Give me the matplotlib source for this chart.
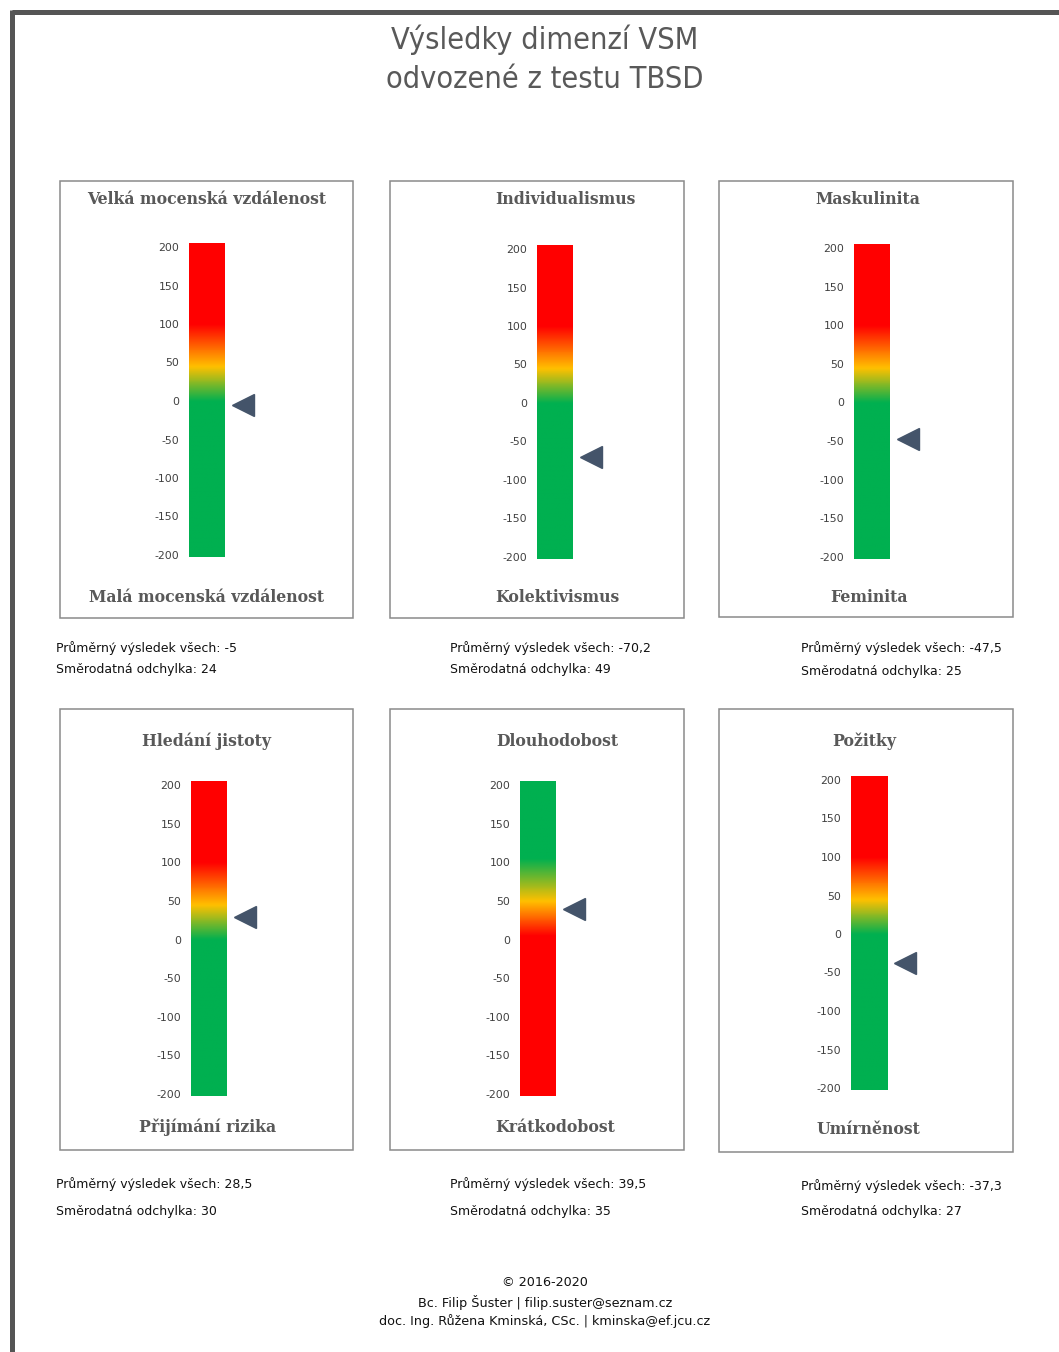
import numpy as np
import matplotlib
matplotlib.use("Agg")
import matplotlib.pyplot as plt
from matplotlib.colors import LinearSegmentedColormap

plt.rcParams["axes.unicode_minus"] = False

# ---- data -------------------------------------------------------------
dim_top = ["Velká mocenská vzdálenost", "Individualismus", "Maskulinita",
           "Hledání jistoty", "Dlouhodobost", "Požitky"]
dim_bottom = ["Malá mocenská vzdálenost", "Kolektivismus", "Feminita",
              "Přijímání rizika", "Krátkodobost", "Umírněnost"]
mean_values = [-5, -70.2, -47.5, 28.5, 39.5, -37.3]
mean_labels = ["-5", "-70,2", "-47,5", "28,5", "39,5", "-37,3"]
std_labels = ["24", "49", "25", "30", "35", "27"]
green_on_top = [False, False, False, False, True, False]
scale_ticks = [-200, -150, -100, -50, 0, 50, 100, 150, 200]

# ---- layout (pixels, origin top-left) ---------------------------------
W, H = 1059, 1352
boxes = [(60, 181, 353, 618), (390, 181, 684, 618), (719, 181, 1013, 617),
         (60, 709, 353, 1150), (390, 709, 684, 1150), (719, 709, 1013, 1152)]
# bar: x-left, x-right, pixel row of +200, pixel row of -200
bars = [(189, 225, 247, 555), (537, 573, 249, 557), (854, 890, 248, 557),
        (191, 227, 785, 1094), (520, 556, 785, 1094), (851, 887, 780, 1088)]
title_x = [207, 565, 868, 207, 557, 864]
bottom_x = [207, 557, 869, 208, 555, 868]
title_y = [200, 200, 200, 741, 741, 741]
bottom_y = [597, 597, 597, 1127, 1127, 1129]
stats_pos = [(56, 648, 670), (450, 648, 670), (801, 648, 671),
             (56, 1184, 1211), (450, 1184, 1211), (801, 1186, 1211)]

GREEN, AMBER, RED = "#00B050", "#FFC000", "#FF0000"
GREY_TXT = "#595959"
MARK = "#44546A"

fig = plt.figure(figsize=(W / 100, H / 100), dpi=100)
page = fig.add_axes([0, 0, 1, 1])
page.set_xlim(0, W)
page.set_ylim(H, 0)
page.axis("off")

# page frame (top and left edges)
page.plot([11.5, W], [11.5, 11.5], color="#555555", lw=3.6, solid_capstyle="butt")
page.plot([11.5, 11.5], [9.7, H], color="#555555", lw=3.6, solid_capstyle="butt")

page.text(545, 40, "Výsledky dimenzí VSM", ha="center", va="center",
          fontsize=22, color=GREY_TXT, family="DejaVu Sans", stretch="condensed",
          fontweight="light")
page.text(545, 79, "odvozené z testu TBSD", ha="center", va="center",
          fontsize=22, color=GREY_TXT, family="DejaVu Sans", stretch="condensed",
          fontweight="light")


def make_cmap(reverse):
    lo, hi = scale_ticks[0], scale_ticks[-1]
    stops = [(lo, GREEN), (0, GREEN), (45, AMBER), (100, RED), (hi, RED)]
    if reverse:
        stops = [(lo, RED), (5, RED), (50, AMBER), (105, GREEN), (hi, GREEN)]
    return LinearSegmentedColormap.from_list(
        "scale", [((v - lo) / (hi - lo), c) for v, c in stops])


pad_top, pad_bot = 5, 2
for i in range(6):
    bx0, by0, bx1, by1 = boxes[i]
    page.add_patch(plt.Rectangle((bx0, by0), bx1 - bx0, by1 - by0, fill=False,
                                 ec="#8a8a8a", lw=1.1))
    page.text(title_x[i], title_y[i], dim_top[i], ha="center", va="center",
              fontsize=11.3, fontweight="bold", color=GREY_TXT, family="DejaVu Serif")
    page.text(bottom_x[i], bottom_y[i], dim_bottom[i], ha="center", va="center",
              fontsize=11.3, fontweight="bold", color=GREY_TXT, family="DejaVu Serif")

    sx, sy1, sy2 = stats_pos[i]
    page.text(sx, sy1, f"Průměrný výsledek všech: {mean_labels[i]}", ha="left",
              va="center", fontsize=9, color="#111111")
    page.text(sx, sy2, f"Směrodatná odchylka: {std_labels[i]}", ha="left",
              va="center", fontsize=9, color="#111111")

    # gauge axes placed so that the scale ticks sit on their pixel rows
    x0, x1, y_hi, y_lo = bars[i]
    lo, hi = scale_ticks[0], scale_ticks[-1]
    ppu = (y_lo - y_hi) / (hi - lo)
    top_px = y_hi - pad_top * ppu
    bot_px = y_lo + pad_bot * ppu
    ax = fig.add_axes([x0 / W, 1 - bot_px / H, (x1 - x0) / W, (bot_px - top_px) / H])
    ymin, ymax = lo - pad_bot, hi + pad_top
    grad = np.linspace(ymin, ymax, 512)[:, None]
    ax.imshow(grad, extent=(0, 1, ymin, ymax), origin="lower", aspect="auto",
              cmap=make_cmap(green_on_top[i]), vmin=lo, vmax=hi,
              interpolation="bilinear")
    ax.set_xlim(0, 1)
    ax.set_ylim(ymin, ymax)
    ax.set_yticks(scale_ticks)
    ax.set_xticks([])
    for s in ax.spines.values():
        s.set_visible(False)
    ax.tick_params(axis="y", length=0, pad=7, labelsize=7.8, labelcolor="#404040")
    ax.plot([1.5], [mean_values[i]], marker="<", ms=16.5, color=MARK,
            mec=MARK, clip_on=False)

footer = ["© 2016-2020", "Bc. Filip Šuster | filip.suster@seznam.cz",
          "doc. Ing. Růžena Kminská, CSc. | kminska@ef.jcu.cz"]
for txt, y in zip(footer, [1282, 1302, 1321]):
    page.text(545, y, txt, ha="center", va="center", fontsize=9.2, color="#111111")

fig.savefig("out.png", dpi=100, facecolor="white")
